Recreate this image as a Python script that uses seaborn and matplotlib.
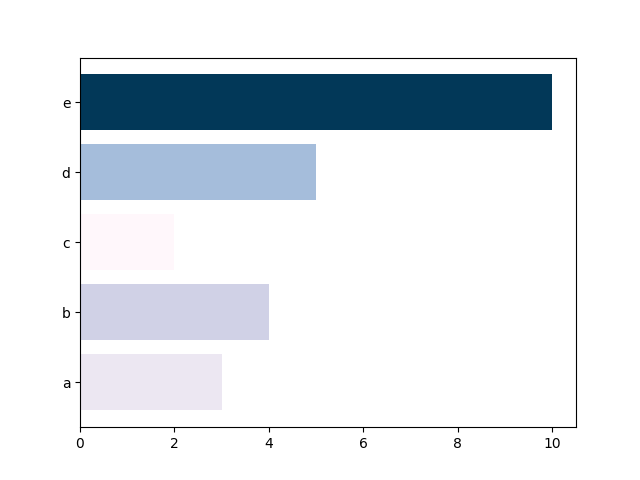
import matplotlib
matplotlib.use("Agg")
import matplotlib.pyplot as plt
import numpy as np
import seaborn as sns

labels = ['a', 'b', 'c', 'd', 'e']
values = [3, 4, 2, 5, 10]

vals = np.array(values, dtype=float)
norm = (vals - vals.min()) / (vals.max() - vals.min())
cmap = plt.get_cmap('PuBu')
colors = [cmap(n) for n in norm]

fig, ax = plt.subplots(figsize=(6.4, 4.8), dpi=100)
sns.barplot(x=values, y=labels, order=labels, hue=labels, hue_order=labels,
            palette=colors, orient='h', width=0.8, saturation=1, legend=False, ax=ax)
ax.set_ylim(-0.64, 4.64)
ax.set_xlim(0, 10.5)
ax.set_xlabel('')
ax.set_ylabel('')
plt.savefig('out.png', dpi=100)
